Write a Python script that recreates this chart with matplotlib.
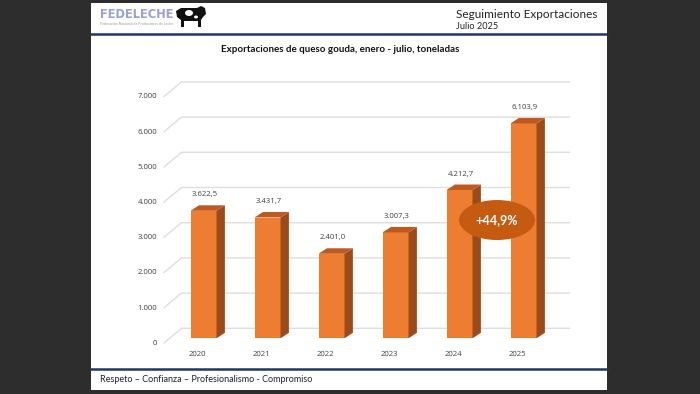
import matplotlib
matplotlib.use('Agg')
import matplotlib.pyplot as plt
from matplotlib.patches import Polygon, Ellipse, Rectangle

# ---------------- data ----------------
years = ['2020', '2021', '2022', '2023', '2024', '2025']
values = [3622.5, 3431.7, 2401.0, 3007.3, 4212.7, 6103.9]
value_labels = ['3.622,5', '3.431,7', '2.401,0', '3.007,3', '4.212,7', '6.103,9']
y_ticks = [0, 1000, 2000, 3000, 4000, 5000, 6000, 7000]
y_tick_labels = ['0', '1.000', '2.000', '3.000', '4.000', '5.000', '6.000', '7.000']
growth_label = '+44,9%'
chart_title = 'Exportaciones de queso gouda, enero - julio, toneladas'
header_title = 'Seguimiento Exportaciones'
header_sub = 'Julio 2025'
footer_text = 'Respeto – Confianza – Profesionalismo - Compromiso'
logo_text = 'FEDELECHE'
logo_sub = 'Federación Nacional de Productores de Leche'

# ---------------- style ----------------
plt.rcParams['font.family'] = ['Lato', 'DejaVu Sans']
NUMFONT = ['Open Sans', 'DejaVu Sans']
BG = '#2d2d2d'
FRONT = '#ED7D31'
SIDE = '#9C4A1A'
TOP = '#BE5A1F'
GRID = '#DEDEDE'
TXT = '#404040'
NAVY = '#1F3864'
ELL = '#C55A11'

W, H = 700, 394
fig = plt.figure(figsize=(7, 3.94), dpi=100)
fig.patch.set_facecolor(BG)


def fx(px):
    return px / W


def fy(py):
    return 1 - py / H


# slide background
fig.add_artist(Rectangle((fx(91), fy(390)), fx(607) - fx(91), fy(3) - fy(390),
                         transform=fig.transFigure, facecolor='white',
                         edgecolor='none', zorder=0))

# header / footer lines
for yy in (34.3, 369.3):
    fig.add_artist(plt.Line2D([fx(91), fx(607)], [fy(yy), fy(yy)],
                              transform=fig.transFigure, color=NAVY, lw=1.8, zorder=1))

fig.text(fx(456.5), fy(14), header_title, fontsize=8.5, color='#222222',
         ha='left', va='center')
fig.text(fx(456.5), fy(26.7), header_sub, fontsize=6.6, color='#222222',
         ha='left', va='center')
fig.text(fx(340), fy(49), chart_title, fontsize=7.0, fontweight='bold',
         color='#111111', ha='center', va='center')
fig.text(fx(100), fy(380), footer_text, fontsize=6.5, color='#222222',
         ha='left', va='center')

# logo
fig.text(fx(100), fy(14.5), logo_text, fontsize=8.3, fontweight='bold',
         family='DejaVu Sans', color='#9AA0D4', ha='left', va='center')
fig.text(fx(100), fy(24), logo_sub, fontsize=2.6, color='#9a9a9a',
         ha='left', va='center')
# simple cow silhouette
cow = [(176, 11), (181, 8), (197, 8), (201, 6), (205, 8), (206, 14), (203, 17),
       (201, 20), (201, 27), (198, 27), (198, 21), (184, 21), (184, 27), (181, 27),
       (181, 20), (177, 17)]
fig.add_artist(Polygon([(fx(a), fy(b)) for a, b in cow], closed=True,
                       transform=fig.transFigure, facecolor='#111111',
                       edgecolor='none', zorder=2))
fig.add_artist(Ellipse((fx(189), fy(13)), fx(8), 6 / H, transform=fig.transFigure,
                       facecolor='white', edgecolor='none', zorder=3))
fig.add_artist(Ellipse((fx(196), fy(17)), fx(4), 3 / H, transform=fig.transFigure,
                       facecolor='white', edgecolor='none', zorder=3))

# ---------------- chart ----------------
X0 = 203.5   # px centre of first bar front face
DX = 64.0    # px per category
Y0 = 338.3   # px of value 0 on bar plane
K = 0.0352   # px per unit value

ax = fig.add_axes([0, 0, 1, 1])
ax.set_facecolor('none')
ax.axis('off')
ax.set_xlim((0 - X0) / DX, (W - X0) / DX)
ax.set_ylim((Y0 - H) / K, Y0 / K)


def ux(px):
    return px / DX


def uy(px):
    return px / K


# gridlines (perspective)
for v, lab in zip(y_ticks, y_tick_labels):
    xs = [ux(163.5 - X0), ux(181.5 - X0), ux(570 - X0)]
    ys = [v - uy(5), v + uy(10), v + uy(10)]
    ax.plot(xs, ys, color=GRID, lw=1.0, zorder=1, solid_capstyle='butt')
    ax.text(ux(157 - X0), v - uy(5), lab, ha='right', va='center',
            fontsize=5.6, color=TXT, family=NUMFONT)

xpos = list(range(len(years)))
bw = ux(26)
ddx = ux(8.4)
ddy = uy(5.5)
ax.bar(xpos, values, width=bw, color=FRONT, zorder=3)
for x, v in zip(xpos, values):
    r = x + bw / 2
    l = x - bw / 2
    ax.add_patch(Polygon([(r, 0), (r + ddx, ddy), (r + ddx, v + ddy), (r, v)],
                         closed=True, facecolor=SIDE, edgecolor='none', zorder=3))
    ax.add_patch(Polygon([(l, v), (r, v), (r + ddx, v + ddy), (l + ddx, v + ddy)],
                         closed=True, facecolor=TOP, edgecolor='none', zorder=3))

for x, v, lab in zip(xpos, values, value_labels):
    ax.text(x + ux(1.5), v + uy(16), lab, ha='center', va='center',
            fontsize=5.6, color=TXT, family=NUMFONT)

for x, yr in zip(xpos, years):
    ax.text(x - ux(6.5), -uy(16), yr, ha='center', va='center',
            fontsize=5.6, color=TXT, family=NUMFONT)

# growth bubble
ex, ey = 4.586, 3360
ax.add_patch(Ellipse((ex, ey), ux(76), uy(40), facecolor=ELL, edgecolor='none', zorder=5))
ax.text(ex, ey, growth_label, ha='center', va='center', fontsize=9.0,
        fontweight='bold', color='white', zorder=6)

fig.savefig('out.png', dpi=100, facecolor=fig.get_facecolor())
